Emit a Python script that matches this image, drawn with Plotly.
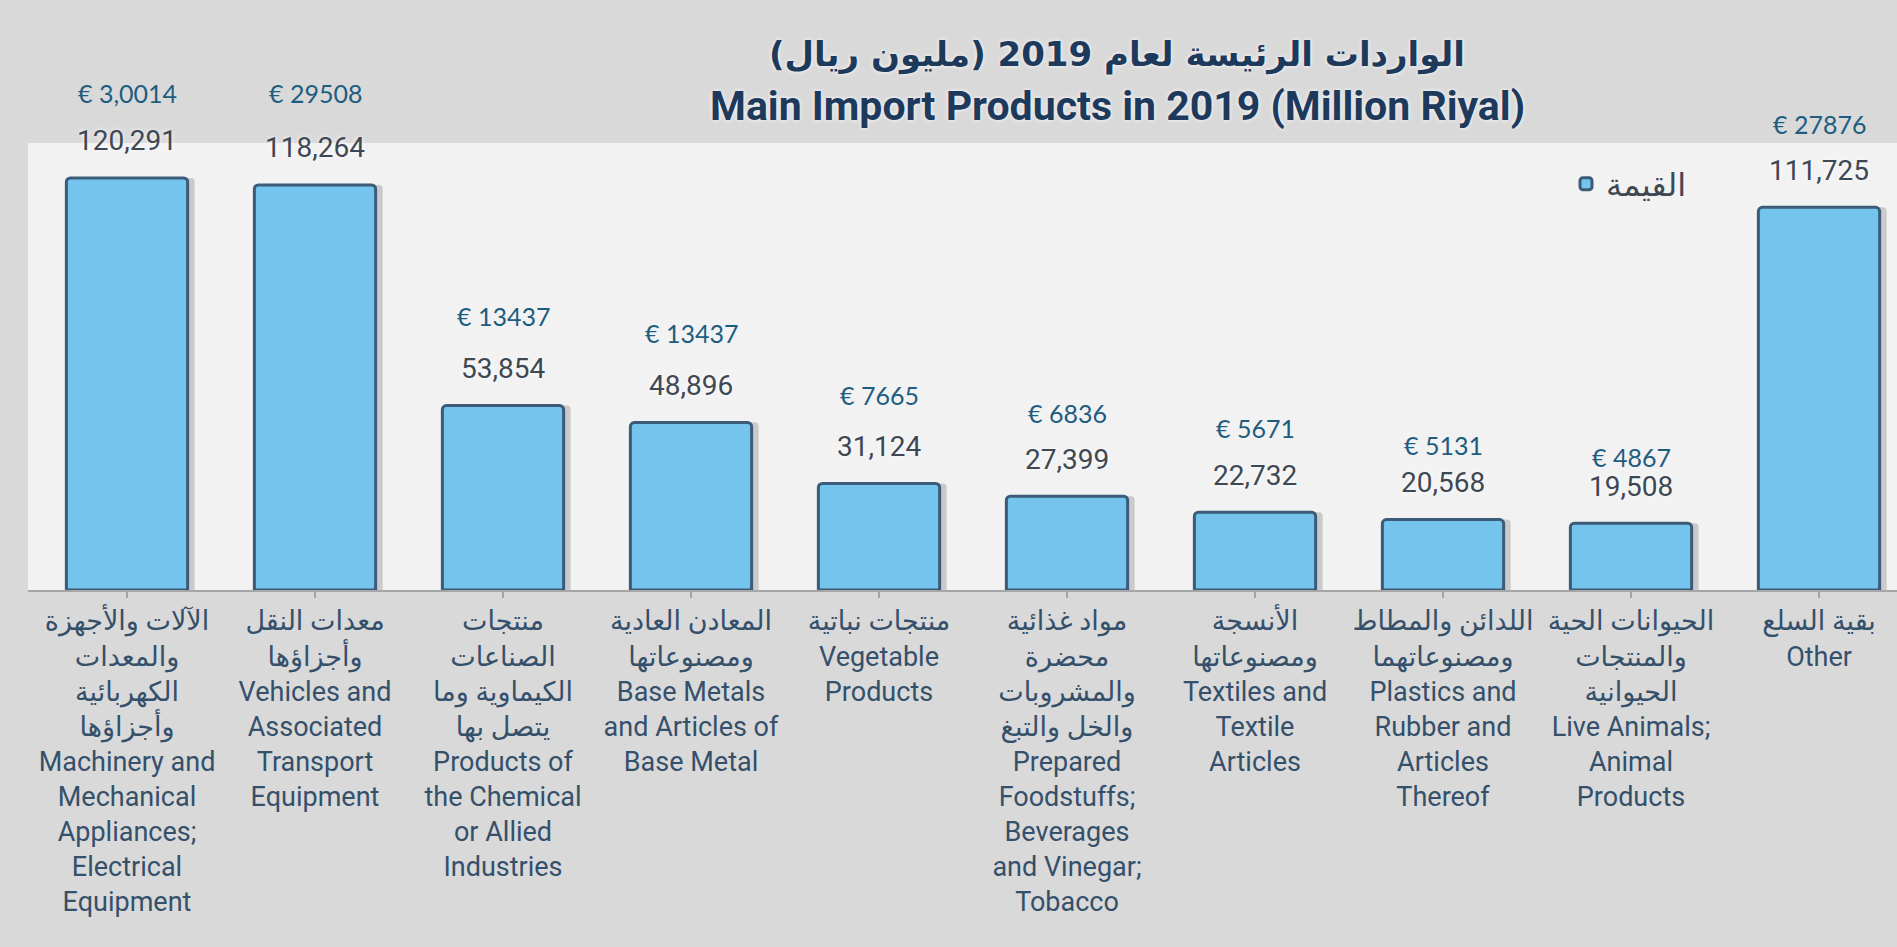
import plotly.graph_objects as go

# ---------------- data ----------------
labels_ar = [
    "الآلات والأجهزة<br>والمعدات<br>الكهربائية<br>وأجزاؤها",
    "معدات النقل<br>وأجزاؤها",
    "منتجات<br>الصناعات<br>الكيماوية وما<br>يتصل بها",
    "المعادن العادية<br>ومصنوعاتها",
    "منتجات نباتية",
    "مواد غذائية<br>محضرة<br>والمشروبات<br>والخل والتبغ",
    "الأنسجة<br>ومصنوعاتها",
    "اللدائن والمطاط<br>ومصنوعاتهما",
    "الحيوانات الحية<br>والمنتجات<br>الحيوانية",
    "بقية السلع",
]
labels_en = [
    "Machinery and<br>Mechanical<br>Appliances;<br>Electrical<br>Equipment",
    "Vehicles and<br>Associated<br>Transport<br>Equipment",
    "Products of<br>the Chemical<br>or Allied<br>Industries",
    "Base Metals<br>and Articles of<br>Base Metal",
    "Vegetable<br>Products",
    "Prepared<br>Foodstuffs;<br>Beverages<br>and Vinegar;<br>Tobacco",
    "Textiles and<br>Textile<br>Articles",
    "Plastics and<br>Rubber and<br>Articles<br>Thereof",
    "Live Animals;<br>Animal<br>Products",
    "Other",
]
values = [120291, 118264, 53854, 48896, 31124, 27399, 22732, 20568, 19508, 111725]
euro_labels = ["€ 3,0014", "€ 29508", "€ 13437", "€ 13437", "€ 7665",
               "€ 6836", "€ 5671", "€ 5131", "€ 4867", "€ 27876"]
series_name = "القيمة"
title_ar = "الواردات الرئيسة لعام 2019 (مليون ريال)"
title_en = "Main Import Products in 2019 (Million Riyal)"

# ---------------- layout constants ----------------
W, H = 1897, 947
L, R, T, B = 28, 0, 143, 357
plot_w = W - L - R
plot_h = H - T - B
cat_px = 188.0
x_lo = -0.5 - 5 / cat_px
x_max = x_lo + plot_w / cat_px
y_max = 130500
euro_offsets_px = [85, 92, 90, 90, 88, 83, 84, 75, 66, 83]
value_offset_px = 37

xs = list(range(len(values)))
ticktext = [a + "<br>" + e for a, e in zip(labels_ar, labels_en)]

fig = go.Figure()

# soft shadow behind bars
fig.add_trace(go.Bar(
    x=xs, y=values, width=0.66, offset=-0.30,
    marker=dict(color="rgba(60,60,60,0.22)", line=dict(width=0), cornerradius=4),
    showlegend=False, hoverinfo="skip",
))
fig.add_trace(go.Bar(
    x=xs, y=values, width=0.645, offset=-0.3225,
    name=series_name,
    marker=dict(color="#74c4ee", line=dict(color="#3b5b78", width=3), cornerradius=4),
    hoverinfo="y",
))

annotations = []
for i, v in enumerate(values):
    annotations.append(dict(
        x=i, y=v, xref="x", yref="y", text=f"{v:,}", showarrow=False,
        yshift=value_offset_px, yanchor="middle",
        font=dict(family="Roboto, DejaVu Sans", size=28, color="#3e4853",
                  shadow="0px 0px 5px #ffffff"),
    ))
    annotations.append(dict(
        x=i, y=v, xref="x", yref="y", text=euro_labels[i], showarrow=False,
        yshift=euro_offsets_px[i], yanchor="middle",
        font=dict(family="Lato, Open Sans, sans-serif", size=25, color="#1d5d80"),
    ))

title_x = (1117 - L) / plot_w
annotations.append(dict(
    x=title_x, y=(T + plot_h - 54) / plot_h, xref="paper", yref="paper",
    text=title_ar, showarrow=False, xanchor="center", yanchor="middle",
    font=dict(family="DejaVu Sans, Roboto", size=34, color="#1d3a5c", weight="bold",
              shadow="0px 0px 4px #ffffff"),
))
annotations.append(dict(
    x=title_x, y=(T + plot_h - 106) / plot_h, xref="paper", yref="paper",
    text=title_en, showarrow=False, xanchor="center", yanchor="middle",
    font=dict(family="Roboto, DejaVu Sans", size=41, color="#1d3a5c", weight="bold",
              shadow="0px 0px 4px #ffffff"),
))

fig.update_layout(
    width=W, height=H,
    margin=dict(l=L, r=R, t=T, b=B, pad=0),
    paper_bgcolor="#d9d9d9",
    plot_bgcolor="#f2f2f2",
    barmode="overlay",
    showlegend=True,
    legend=dict(
        x=(1566 - L) / plot_w, y=(T + plot_h - 184) / plot_h,
        xanchor="left", yanchor="middle",
        bgcolor="rgba(0,0,0,0)",
        font=dict(family="DejaVu Sans, Roboto", size=32, color="#3e4853"),
        itemwidth=30,
    ),
    annotations=annotations,
    xaxis=dict(
        range=[x_lo, x_max],
        tickvals=xs, ticktext=ticktext,
        tickangle=0,
        tickson="boundaries",
        ticks="outside", ticklen=6, tickwidth=2, tickcolor="#a6a6a6",
        showline=True, linecolor="#a6a6a6", linewidth=2,
        showgrid=False, zeroline=False,
        tickfont=dict(family="Roboto, DejaVu Sans", size=27, color="#34506b"),
        fixedrange=True,
    ),
    yaxis=dict(range=[0, y_max], visible=False, showgrid=False, zeroline=False,
               fixedrange=True),
)

fig.write_html(
    "out.html",
    config={"displayModeBar": False},
    post_script="document.body.style.margin='0';document.body.style.overflow='hidden';",
)
